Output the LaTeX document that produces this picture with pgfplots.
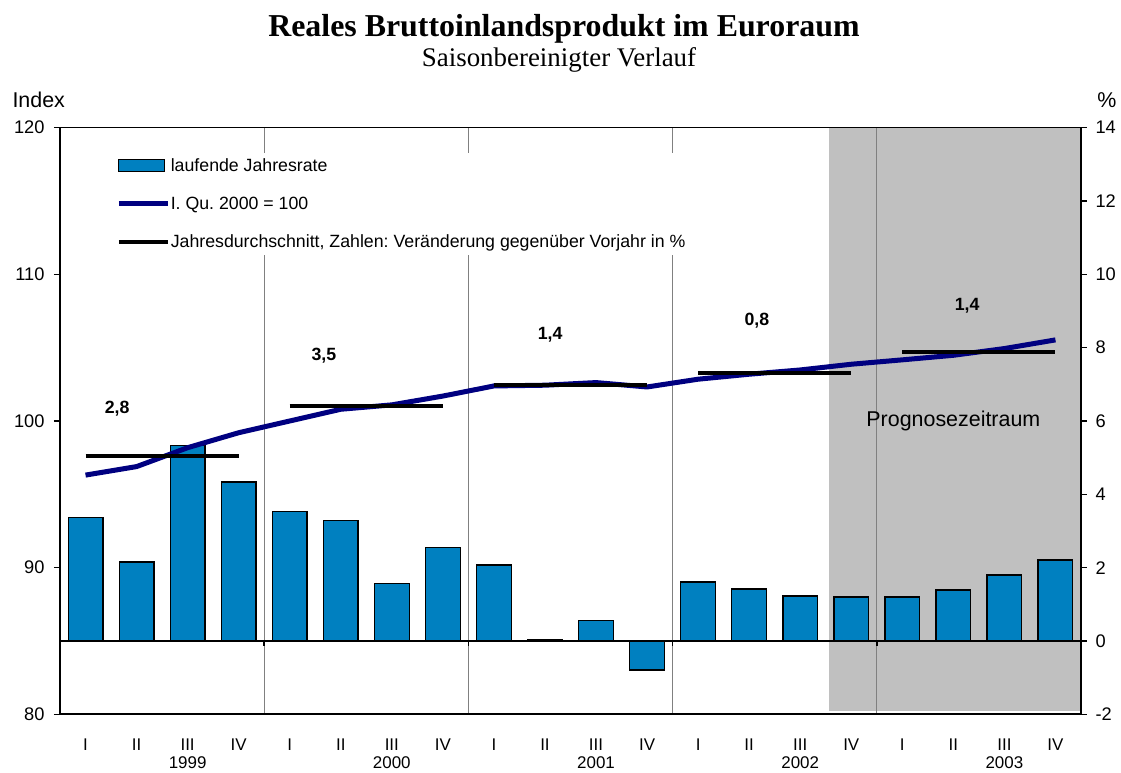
\documentclass[border=0pt]{standalone}
\usepackage{fontspec}
\setmainfont{Liberation Sans}
\newfontfamily\timesf{Liberation Serif}
\usepackage{pgfplots}
\pgfplotsset{compat=1.18}
\frenchspacing
\definecolor{barblue}{RGB}{0,128,192}
\definecolor{navyline}{RGB}{0,0,128}
\definecolor{shadegray}{RGB}{192,192,192}
\definecolor{sepgray}{RGB}{128,128,128}
\pgfplotsset{
  common/.style={
    at={(60bp,56.7bp)}, anchor=south west, scale only axis,
    width=1021bp, height=586.6bp,
    xmin=-0.5, xmax=19.5,
    font=\fontsize{18.3}{20}\selectfont,
    /pgf/number format/assume math mode=true,
    tick align=outside, major tick length=6bp,
    tick style={black, line width=1.2bp},
    axis line style={black, line width=1.6bp},
  }
}
\begin{document}
\frenchspacing
\begin{tikzpicture}
\path (0bp,0bp) rectangle (1121bp,771bp);
\node[font=\timesf\bfseries\fontsize{32}{36}\selectfont, anchor=base] at (564bp,734bp) {Reales Bruttoinlandsprodukt im Euroraum};
\node[font=\timesf\fontsize{27}{30}\selectfont, anchor=base] at (559bp,704bp) {Saisonbereinigter Verlauf};
\node[font=\fontsize{21.5}{24}\selectfont, anchor=west] at (9bp,671bp) {Index};
\node[font=\fontsize{21.5}{24}\selectfont] at (1107bp,671bp) {\%};

\begin{axis}[common,
  ymin=-2, ymax=14, ytick={-2,0,...,14},
  ytick pos=right, yticklabel pos=right,
  yticklabel style={xshift=5bp},
  axis on top,
  xtick={0,...,19},
  xticklabels={I,II,III,IV,I,II,III,IV,I,II,III,IV,I,II,III,IV,I,II,III,IV},
  xticklabel pos=lower,
  x tick style={draw=none},
  xticklabel style={yshift=-15bp, font=\fontsize{17}{20}\selectfont},
  extra x ticks={2,6,10,14,18},
  extra x tick labels={1999,2000,2001,2002,2003},
  extra x tick style={xticklabel style={yshift=-18bp}, tick style={draw=none}},
]
\fill[shadegray] (axis cs:14.56,-1.9) rectangle (axis cs:19.5,14);
\foreach \s in {3.5,7.5,11.5,15.5}{
  \edef\tmp{\noexpand\draw[sepgray, line width=1bp] (axis cs:\s,-2) -- (axis cs:\s,14);}
  \tmp
}
\addplot[ybar, bar width=0.68, fill=barblue, draw=black, line width=1.3bp] coordinates {
 (0,3.37) (1,2.15) (2,5.33) (3,4.34) (4,3.53) (5,3.28) (6,1.56) (7,2.55)
 (8,2.07) (9,0.03) (10,0.55) (11,-0.79) (12,1.61) (13,1.42) (14,1.23) (15,1.20)
 (16,1.20) (17,1.39) (18,1.80) (19,2.21)};
\draw[black, line width=1.5bp] (axis cs:-0.5,0) -- (axis cs:19.5,0);
\foreach \s in {3.5,7.5,11.5,15.5}{
  \edef\tmp{\noexpand\draw[black, line width=1.5bp] (axis cs:\s,0) -- ++(0bp,-5bp);}
  \tmp
}
\node[font=\fontsize{21.5}{24}\selectfont] at (axis cs:17.0,6.0) {Prognosezeitraum};
\end{axis}

\begin{axis}[common,
  ymin=80, ymax=120, ytick={80,90,...,120},
  axis y line*=left, axis x line=none, xtick=\empty,
  yticklabel style={xshift=-6bp},
  unbounded coords=jump,
  legend image code/.code={\draw[#1] (0bp,0bp) -- (49bp,0bp);},
  legend style={at={(0.053,0.958)}, anchor=north west, draw=none, fill=white,
    font=\fontsize{17.8}{20}\selectfont, row sep=20bp, inner xsep=2bp, inner ysep=4bp,
    cells={anchor=west}, nodes={inner xsep=0.5bp}},
]
\addlegendimage{legend image code/.code={\draw[fill=barblue, draw=black, line width=1.3bp] (0bp,-6bp) rectangle (46bp,6bp);}}
\addlegendentry{laufende Jahresrate}
\addplot[navyline, line width=5bp, line join=round] coordinates {
 (0,96.31) (1,96.89) (2,98.18) (3,99.2) (4,100.0) (5,100.8) (6,101.1) (7,101.7)
 (8,102.39) (9,102.44) (10,102.62) (11,102.32) (12,102.85) (13,103.19) (14,103.48) (15,103.87)
 (16,104.17) (17,104.48) (18,104.94) (19,105.53)};
\addlegendentry{I. Qu. 2000 = 100}
\addplot[black, line width=4bp] coordinates {
 (0,97.61) (3,97.61) (3.5,nan)
 (4,101.0) (7,101.0) (7.5,nan)
 (8,102.44) (11,102.44) (11.5,nan)
 (12,103.26) (15,103.26) (15.5,nan)
 (16,104.71) (19,104.71)};
\addlegendentry{Jahresdurchschnitt, Zahlen: Veränderung gegenüber Vorjahr in \%}
\node[font=\bfseries\fontsize{17.8}{20}\selectfont] at (axis cs:0.62,100.87) {2,8};
\node[font=\bfseries\fontsize{17.8}{20}\selectfont] at (axis cs:4.67,104.48) {3,5};
\node[font=\bfseries\fontsize{17.8}{20}\selectfont] at (axis cs:9.1,105.9) {1,4};
\node[font=\bfseries\fontsize{17.8}{20}\selectfont] at (axis cs:13.15,106.85) {0,8};
\node[font=\bfseries\fontsize{17.8}{20}\selectfont] at (axis cs:17.27,107.83) {1,4};
\end{axis}
\end{tikzpicture}
\end{document}
